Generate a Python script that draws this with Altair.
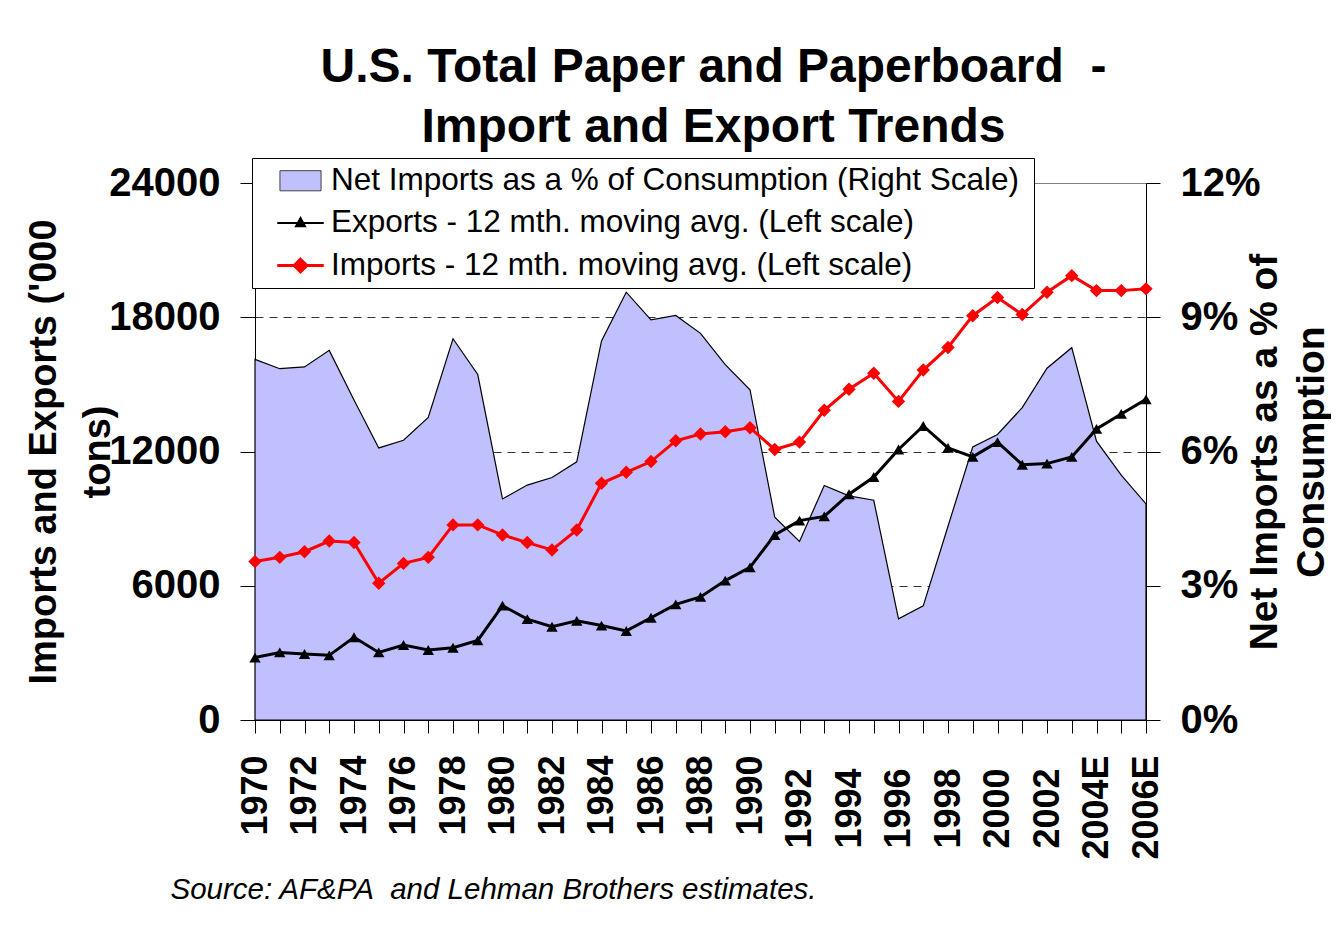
import altair as alt
import pandas as pd

years = list(range(1970, 2007))
exports = [2790, 3020, 2950, 2890, 3700, 3020, 3350, 3130, 3230, 3560,
           5110, 4510, 4170, 4430, 4220, 3980, 4570, 5170, 5500, 6230,
           6820, 8270, 8910, 9100, 10090, 10860, 12090, 13140, 12160, 11760,
           12420, 11410, 11460, 11760, 13010, 13680, 14330]
imports = [7080, 7270, 7520, 8000, 7930, 6110, 7000, 7270, 8720, 8720,
           8270, 7930, 7600, 8490, 10580, 11070, 11550, 12480, 12780, 12880,
           13060, 12090, 12420, 13840, 14780, 15500, 14240, 15640, 16650, 18070,
           18880, 18120, 19120, 19860, 19190, 19190, 19270]
net_pct = [8.06, 7.85, 7.89, 8.26, 7.15, 6.08, 6.25, 6.76, 8.52, 7.72,
           4.94, 5.25, 5.42, 5.77, 8.47, 9.56, 8.94, 9.04, 8.64, 7.94,
           7.38, 4.53, 3.99, 5.24, 5.01, 4.91, 2.26, 2.55, 4.33, 6.10,
           6.38, 6.98, 7.86, 8.32, 6.23, 5.47, 4.83]
series_names = [
    "Net Imports as a % of Consumption (Right Scale)",
    "Exports - 12 mth. moving avg. (Left scale)",
    "Imports - 12 mth. moving avg. (Left scale)",
]
left_ticks = [0, 6000, 12000, 18000, 24000]
right_ticks = [0, 0.03, 0.06, 0.09, 0.12]

FONT = "Liberation Sans"
AREA = "#c0c0ff"

df = pd.DataFrame({
    "year": years,
    "exports": exports,
    "imports": imports,
    "net": [v / 100 for v in net_pct],
})

x = alt.X(
    "year:Q",
    scale=alt.Scale(domain=[1970, 2006], nice=False, zero=False),
    axis=alt.Axis(
        values=years,
        format="d",
        labelExpr="datum.value % 2 == 0 ? datum.label + (datum.value >= 2004 ? 'E' : '') : ''",
        labelAngle=-90,
        labelFont=FONT,
        labelFontSize=36,
        labelFontWeight="bold",
        labelColor="black",
        labelOverlap=False,
        labelPadding={"condition": {"test": "datum.value >= 1992 && datum.value <= 2002", "value": 35}, "value": 22},
        tickSize=13,
        tickColor="black",
        domainColor="black",
        grid=False,
        title="Source: AF&PA\u00a0 and Lehman Brothers estimates.",
        titleFont=FONT,
        titleFontSize=29.5,
        titleFontStyle="italic",
        titleFontWeight="normal",
        titleColor="black",
        titleX=-85,
        titleY=169,
        titleAlign="left",
        titleBaseline="middle",
    ),
)

y_left = alt.Y(
    "val:Q",
    scale=alt.Scale(domain=[0, 24000], nice=False),
    axis=alt.Axis(
        orient="left",
        values=left_ticks,
        format="d",
        labelFont=FONT,
        labelFontSize=40,
        labelFontWeight="bold",
        labelColor="black",
        labelPadding=20,
        tickSize=15,
        tickColor="black",
        domainColor="black",
        grid=True,
        gridDash=[8, 6],
        gridColor="#333333",
        gridWidth=1,
        gridOpacity={"condition": {"test": "datum.value == 0 || datum.value == 24000", "value": 0}, "value": 1},
        title=["Imports and Exports ('000", "tons)"],
        titleFont=FONT,
        titleFontSize=38,
        titleFontWeight="bold",
        titleColor="black",
        titleLineHeight=54,
        titleAngle=270,
        titleX=-192,
        titleY=268.5,
        titleAlign="center",
        titleBaseline="bottom",
    ),
)

y_right = alt.Y(
    "net:Q",
    scale=alt.Scale(domain=[0, 0.12], nice=False),
    axis=alt.Axis(
        orient="right",
        values=right_ticks,
        format=".0%",
        labelFont=FONT,
        labelFontSize=40,
        labelFontWeight="bold",
        labelColor="black",
        labelPadding=20,
        tickSize=14,
        tickColor="black",
        domainColor="black",
        grid=False,
        title=["Net Imports as a % of", "Consumption"],
        titleFont=FONT,
        titleFontSize=39,
        titleFontWeight="bold",
        titleColor="black",
        titleLineHeight=47,
        titleAngle=270,
        titleX=138,
        titleY=268.5,
        titleAlign="center",
        titleBaseline="bottom",
    ),
)

base = alt.Chart(df)

area = base.mark_area(fill=AREA, stroke="black", strokeWidth=1.2, opacity=1).encode(x=x, y=y_right)

exp_line = base.mark_line(color="black", strokeWidth=3).encode(x=x, y=y_left).transform_calculate(val="datum.exports")
exp_pts = base.mark_point(shape="triangle-up", filled=True, size=130, color="black", opacity=1).encode(
    x=x, y=y_left).transform_calculate(val="datum.exports")
imp_line = base.mark_line(color="red", strokeWidth=3).encode(x=x, y=y_left).transform_calculate(val="datum.imports")
imp_pts = base.mark_point(shape="diamond", filled=True, size=180, color="red", opacity=1).encode(
    x=x, y=y_left).transform_calculate(val="datum.imports")

left_group = alt.layer(exp_line, exp_pts, imp_line, imp_pts)

p_rect = "M-1.37,-0.67H1.37V0.67H-1.37Z"
p_tri = "M-1.55,0H1.55M0,-0.33L0.3,0.22L-0.3,0.22Z"
p_dia = "M-1.55,0H1.55M0,-0.42L0.42,0L0,0.42L-0.42,0Z"

leg = alt.Legend(
    title=".",
    titleOrient="right",
    titleFontSize=8,
    titleOpacity=0,
    titlePadding=5,
    orient="none",
    legendX=-3,
    legendY=-25,
    fillColor="white",
    strokeColor="black",
    padding=7,
    symbolSize=900,
    symbolOffset=25,
    labelOffset=14,
    labelFont=FONT,
    labelFontSize=31.5,
    labelColor="black",
    labelLimit=0,
    rowPadding=10,
)

legend_df = pd.DataFrame({"series": series_names})
proxy = alt.Chart(legend_df).mark_point(filled=True, opacity=1).encode(
    fill=alt.Fill("series:N", sort=series_names,
                  scale=alt.Scale(domain=series_names, range=[AREA, "black", "red"]), legend=leg),
    stroke=alt.Stroke("series:N", sort=series_names,
                      scale=alt.Scale(domain=series_names, range=["#404040", "black", "red"]), legend=leg),
    shape=alt.Shape("series:N", sort=series_names,
                    scale=alt.Scale(domain=series_names, range=[p_rect, p_tri, p_dia]), legend=leg),
    strokeWidth=alt.StrokeWidth("series:N", sort=series_names,
                                scale=alt.Scale(domain=series_names, range=[1, 3, 3]), legend=leg),
).transform_filter("false")

chart = alt.layer(area, left_group, proxy).resolve_scale(y="independent").properties(
    width=891,
    height=537,
    autosize=alt.AutoSizeParams(type="none"),
    padding={"left": 247, "top": 175, "right": 185, "bottom": 188},
    title=alt.TitleParams(
        text=["U.S. Total Paper and Paperboard\u00a0 -", "Import and Export Trends"],
        font=FONT,
        fontSize=48,
        fontWeight="bold",
        color="black",
        lineHeight=60,
        anchor="middle",
        dx=13,
        offset=6,
    ),
).configure(font=FONT).configure_view(stroke="#808080", strokeWidth=1)

chart.save("out.html", embed_options={"renderer": "svg", "actions": False})
